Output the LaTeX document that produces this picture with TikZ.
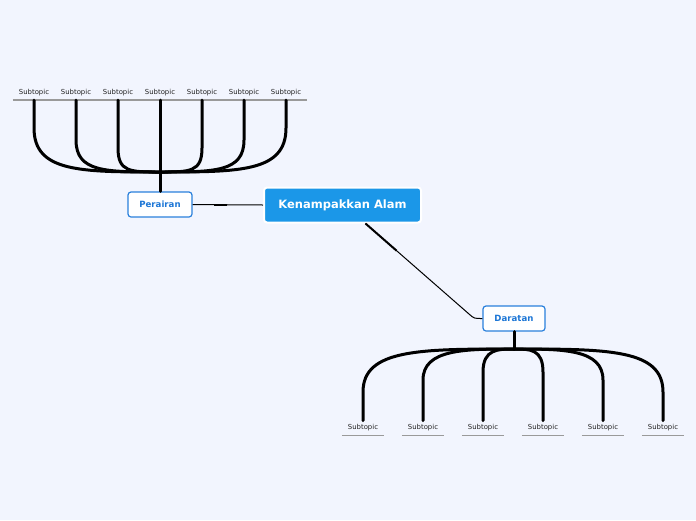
\documentclass[tikz,border=0pt]{standalone}
\usepackage{fontspec}
\setmainfont{DejaVu Sans}
\usetikzlibrary{calc}
\definecolor{bg}{HTML}{F2F5FE}
\definecolor{mainblue}{HTML}{1B97E8}
\definecolor{subblue}{HTML}{2A80DC}
\definecolor{subtext}{HTML}{1C76D6}
\definecolor{uline}{HTML}{9A9A9A}
\definecolor{stxt}{HTML}{222222}
\tikzset{
  centre/.style={draw=white, line width=2pt, fill=mainblue, rounded corners=3pt,
    minimum width=157pt, minimum height=35pt, text=white,
    font=\fontsize{11.5}{13}\selectfont\bfseries},
  maintopic/.style={draw=subblue, line width=1.2pt, fill=white, rounded corners=3pt,
    minimum height=25pt, text=subtext, font=\fontsize{8.6}{10}\selectfont\bfseries},
  subtopic/.style={anchor=south, minimum width=42pt, inner xsep=0pt, inner ysep=4pt,
    text height=5pt, text depth=1.5pt, text=stxt, font=\fontsize{6.9}{8}\selectfont,
    append after command={(\tikzlastnode.south west) edge[draw=uline, line width=1.2pt] (\tikzlastnode.south east)}},
  branch/.style={line width=3pt, line cap=round, black},
  conn/.style={line width=1pt, black},
}
\begin{document}
\begin{tikzpicture}[x=1pt,y=-1pt]
\fill[bg] (0,0) rectangle (696,520);
\useasboundingbox (0,0) rectangle (696,520);

\node[centre] (c) at (342.5,205) {Kenampakkan Alam};
\node[maintopic, minimum width=64pt] (pe) at (160,204.5) {Perairan};
\node[maintopic, minimum width=62pt] (da) at (514,318.5) {Daratan};

% connectors from centre
\draw[conn] (c.west) -- (pe.east);
\draw[line width=2.2pt] ([xshift=-36pt]c.west) -- ([xshift=-49pt]c.west);
\coordinate (bend) at (469,314);
\draw[conn] ([xshift=23pt]c.south) -- (bend) .. controls (474,318.5) .. (da.west);
\draw[line width=2pt] ([xshift=23pt]c.south) -- ($([xshift=23pt]c.south)!0.3!(bend)$);

% Perairan subtopics
\foreach \i/\x in {1/34,2/76,3/118,4/160,5/202,6/244,7/286}
  \node[subtopic] (p\i) at (\x,100) {Subtopic};
\coordinate (hp) at (160,172);
\draw[branch] (pe.north) -- (hp);
\draw[branch] (p4.south) -- (hp);
\draw[branch] (p1.south) -- (34,128) .. controls (34,172) and (80,172) .. (hp);
\draw[branch] (p2.south) -- (76,140) .. controls (76,172) and (105,172) .. (hp);
\draw[branch] (p3.south) -- (118,148) .. controls (118,172) and (130,172) .. (hp);
\draw[branch] (p7.south) -- (286,128) .. controls (286,172) and (240,172) .. (hp);
\draw[branch] (p6.south) -- (244,140) .. controls (244,172) and (215,172) .. (hp);
\draw[branch] (p5.south) -- (202,148) .. controls (202,172) and (190,172) .. (hp);

% Daratan subtopics
\foreach \i/\x in {1/363,2/423,3/483,4/543,5/603,6/663}
  \node[subtopic] (d\i) at (\x,435.5) {Subtopic};
\coordinate (hd) at (514,349);
\draw[branch] (da.south) -- (hd);
\draw[branch] (d1.north) -- (363,392) .. controls (363,349) and (420,349) .. (hd);
\draw[branch] (d2.north) -- (423,380) .. controls (423,349) and (465,349) .. (hd);
\draw[branch] (d3.north) -- (483,372) .. controls (483,349) and (498,349) .. (hd);
\draw[branch] (d4.north) -- (543,372) .. controls (543,349) and (530,349) .. (hd);
\draw[branch] (d5.north) -- (603,380) .. controls (603,349) and (563,349) .. (hd);
\draw[branch] (d6.north) -- (663,392) .. controls (663,349) and (608,349) .. (hd);
\end{tikzpicture}
\end{document}
